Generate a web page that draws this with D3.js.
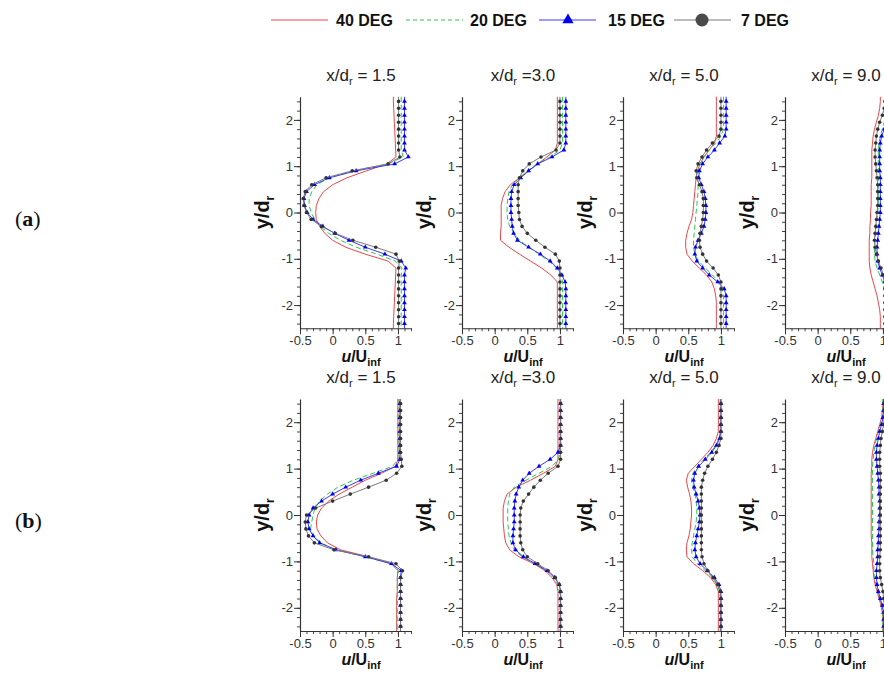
<!DOCTYPE html>
<html>
<head>
<meta charset="utf-8">
<script src="https://cdn.jsdelivr.net/npm/d3@7"></script>
<style>
  body { margin: 0; background: #fff; }
  svg { display: block; font-family: Arial, "Liberation Sans", sans-serif; }
</style>
</head>
<body>
<svg id="chart" width="884" height="673"></svg>
<script>
// y/d_r stations shared by every profile (top to bottom)
const yGrid = [2.4, 2.25, 2.1, 1.95, 1.8, 1.65, 1.5, 1.35, 1.2, 1.05, 0.9, 0.75, 0.6, 0.45, 0.3, 0.15, 0,
  -0.15, -0.3, -0.45, -0.6, -0.75, -0.9, -1.05, -1.2, -1.35, -1.5, -1.65, -1.8, -1.95, -2.1, -2.25, -2.4];

const stations = ["= 1.5", "=3.0", "= 5.0", "= 9.0"];
const rowLabels = ["a", "b"];

// row (a): u/U_inf per station (x/d_r = 1.5, 3.0, 5.0, 9.0)
const a40 = [
  [0.93,0.935,0.94,0.945,0.95,0.955,0.96,0.965,0.97,0.83,0.52,0.22,0.0,-0.14,-0.21,-0.25,-0.26,-0.25,-0.2,-0.12,0.0,0.2,0.5,0.85,0.97,0.965,0.96,0.955,0.95,0.945,0.94,0.935,0.93],
  [0.96,0.96,0.96,0.96,0.96,0.96,0.96,0.93,0.8,0.66,0.52,0.38,0.24,0.16,0.12,0.1,0.1,0.1,0.1,0.09,0.09,0.22,0.38,0.55,0.72,0.86,0.96,0.96,0.96,0.96,0.96,0.96,0.96],
  [0.93,0.93,0.93,0.93,0.93,0.93,0.9,0.82,0.74,0.68,0.64,0.62,0.61,0.6,0.59,0.58,0.57,0.55,0.51,0.48,0.46,0.46,0.48,0.56,0.67,0.78,0.86,0.9,0.92,0.93,0.93,0.93,0.93],
  [0.96,0.95,0.93,0.9,0.87,0.85,0.84,0.83,0.83,0.83,0.83,0.83,0.82,0.82,0.82,0.82,0.81,0.81,0.8,0.8,0.79,0.79,0.79,0.79,0.8,0.82,0.85,0.88,0.91,0.93,0.95,0.96,0.96]
];
const a20 = [
  [1.05,1.05,1.05,1.05,1.05,1.05,1.05,1.05,1.08,0.85,0.32,-0.05,-0.24,-0.32,-0.36,-0.36,-0.33,-0.27,-0.19,-0.06,0.12,0.36,0.68,0.96,1.06,1.05,1.05,1.05,1.05,1.05,1.05,1.05,1.05],
  [1.04,1.04,1.04,1.04,1.04,1.04,1.04,1.0,0.85,0.65,0.5,0.38,0.27,0.22,0.2,0.19,0.19,0.2,0.23,0.3,0.38,0.52,0.68,0.83,0.95,1.02,1.04,1.04,1.04,1.04,1.04,1.04,1.04],
  [1.04,1.04,1.04,1.04,1.04,1.0,0.92,0.82,0.74,0.68,0.65,0.64,0.65,0.65,0.64,0.63,0.62,0.61,0.6,0.59,0.58,0.58,0.6,0.66,0.76,0.87,0.97,1.02,1.04,1.04,1.04,1.04,1.04],
  [1.05,1.05,1.04,1.02,0.99,0.96,0.94,0.93,0.93,0.93,0.93,0.93,0.93,0.93,0.93,0.93,0.92,0.91,0.9,0.89,0.88,0.87,0.87,0.88,0.91,0.95,0.99,1.02,1.04,1.05,1.05,1.05,1.05]
];
const a15 = [
  [1.1,1.1,1.1,1.1,1.1,1.1,1.1,1.1,1.16,0.95,0.36,-0.05,-0.28,-0.4,-0.44,-0.43,-0.39,-0.3,-0.15,0.03,0.25,0.5,0.8,1.05,1.12,1.1,1.1,1.1,1.1,1.1,1.1,1.1,1.1],
  [1.09,1.09,1.09,1.09,1.09,1.09,1.09,1.06,0.88,0.66,0.52,0.4,0.3,0.26,0.25,0.25,0.25,0.26,0.27,0.29,0.35,0.52,0.7,0.85,0.96,1.03,1.08,1.09,1.09,1.09,1.09,1.09,1.09],
  [1.08,1.08,1.08,1.08,1.08,1.06,0.98,0.9,0.8,0.72,0.67,0.66,0.7,0.74,0.76,0.77,0.77,0.76,0.74,0.7,0.65,0.61,0.6,0.63,0.72,0.82,0.95,1.05,1.08,1.08,1.08,1.08,1.08],
  [1.08,1.08,1.07,1.05,1.02,0.98,0.96,0.95,0.95,0.95,0.95,0.96,0.96,0.96,0.96,0.96,0.96,0.95,0.94,0.93,0.92,0.91,0.91,0.92,0.95,0.99,1.03,1.06,1.08,1.08,1.08,1.08,1.08]
];
const a7 = [
  [1.01,1.01,1.01,1.01,1.01,1.01,1.01,1.01,1.03,0.85,0.3,-0.1,-0.32,-0.42,-0.45,-0.44,-0.4,-0.33,-0.17,0.04,0.31,0.66,0.97,1.02,1.01,1.01,1.01,1.01,1.01,1.01,1.01,1.01,1.01],
  [1.0,1.0,1.0,1.0,1.0,1.0,1.0,0.94,0.71,0.53,0.43,0.38,0.36,0.36,0.36,0.36,0.37,0.38,0.42,0.5,0.63,0.77,0.93,0.99,1.0,1.0,1.0,1.0,1.0,1.0,1.0,1.0,1.0],
  [1.0,1.0,1.0,1.0,1.0,0.97,0.87,0.78,0.71,0.65,0.62,0.63,0.67,0.71,0.73,0.73,0.73,0.72,0.7,0.68,0.67,0.68,0.72,0.78,0.88,0.96,1.0,1.0,1.0,1.0,1.0,1.0,1.0],
  [1.03,1.02,0.99,0.95,0.92,0.9,0.89,0.88,0.88,0.89,0.9,0.91,0.92,0.92,0.92,0.92,0.91,0.9,0.89,0.88,0.87,0.88,0.9,0.93,0.97,1.01,1.03,1.03,1.03,1.03,1.03,1.03,1.03]
];

// row (b)
const b40 = [
  [1.0,1.0,1.0,1.0,1.0,1.0,1.0,1.0,1.0,0.96,0.75,0.5,0.3,0.1,-0.06,-0.17,-0.23,-0.25,-0.24,-0.18,-0.08,0.12,0.55,0.9,1.0,0.99,0.99,0.99,0.98,0.98,0.98,0.98,0.98],
  [0.97,0.97,0.97,0.97,0.97,0.97,0.97,0.97,0.97,0.93,0.75,0.55,0.33,0.19,0.15,0.13,0.13,0.13,0.14,0.15,0.17,0.23,0.37,0.6,0.77,0.88,0.95,0.97,0.97,0.97,0.97,0.97,0.97],
  [0.96,0.96,0.96,0.96,0.96,0.93,0.88,0.8,0.7,0.6,0.5,0.47,0.49,0.52,0.54,0.55,0.55,0.54,0.53,0.51,0.48,0.47,0.48,0.58,0.72,0.84,0.92,0.96,0.96,0.96,0.96,0.96,0.96],
  [1.0,0.99,0.98,0.95,0.92,0.89,0.86,0.84,0.83,0.83,0.82,0.82,0.82,0.82,0.82,0.82,0.82,0.82,0.82,0.82,0.83,0.83,0.83,0.84,0.85,0.86,0.88,0.91,0.94,0.97,0.99,1.0,1.0]
];
const b20 = [
  [1.0,1.0,1.0,1.0,1.0,1.0,1.0,1.0,1.0,0.92,0.62,0.32,0.08,-0.08,-0.2,-0.27,-0.3,-0.32,-0.34,-0.3,-0.18,0.05,0.5,0.9,1.01,0.99,0.99,0.99,0.99,0.99,0.99,0.99,0.99],
  [1.0,1.0,1.0,1.0,1.0,1.0,1.0,1.0,0.98,0.88,0.68,0.48,0.3,0.23,0.21,0.2,0.2,0.2,0.21,0.22,0.25,0.3,0.42,0.62,0.8,0.91,0.97,0.99,1.0,1.0,1.0,1.0,1.0],
  [0.99,0.99,0.99,0.99,0.99,0.97,0.92,0.84,0.74,0.64,0.57,0.55,0.57,0.6,0.62,0.63,0.63,0.62,0.6,0.58,0.56,0.55,0.56,0.64,0.76,0.87,0.94,0.98,0.99,0.99,0.99,0.99,0.99],
  [1.0,1.0,0.99,0.96,0.93,0.9,0.88,0.86,0.85,0.84,0.84,0.84,0.84,0.84,0.84,0.84,0.84,0.84,0.84,0.84,0.84,0.84,0.85,0.86,0.86,0.87,0.89,0.92,0.95,0.98,1.0,1.0,1.0]
];
const b15 = [
  [1.03,1.03,1.03,1.03,1.03,1.03,1.03,1.03,1.03,0.98,0.7,0.43,0.2,0.0,-0.17,-0.3,-0.36,-0.38,-0.36,-0.3,-0.2,0.05,0.5,0.9,1.05,1.04,1.04,1.04,1.04,1.04,1.04,1.04,1.04],
  [1.01,1.01,1.01,1.01,1.01,1.01,1.01,0.97,0.85,0.68,0.53,0.43,0.37,0.33,0.31,0.3,0.3,0.3,0.29,0.28,0.28,0.32,0.44,0.62,0.8,0.92,0.99,1.01,1.01,1.01,1.01,1.01,1.01],
  [1.0,1.0,1.0,1.0,1.0,0.98,0.93,0.86,0.76,0.66,0.6,0.58,0.59,0.62,0.65,0.67,0.68,0.67,0.65,0.63,0.61,0.6,0.62,0.68,0.79,0.9,0.97,1.0,1.0,1.0,1.0,1.0,1.0],
  [1.01,1.01,1.0,0.98,0.95,0.93,0.91,0.9,0.9,0.91,0.92,0.93,0.94,0.94,0.95,0.95,0.95,0.94,0.94,0.93,0.93,0.92,0.92,0.91,0.9,0.9,0.91,0.93,0.96,0.99,1.01,1.01,1.01]
];
const b7 = [
  [1.04,1.04,1.04,1.04,1.04,1.04,1.04,1.04,1.05,1.06,0.98,0.82,0.55,0.27,0.0,-0.26,-0.4,-0.42,-0.41,-0.37,-0.28,0.02,0.55,0.97,1.07,1.04,1.04,1.04,1.04,1.04,1.04,1.04,1.04],
  [1.01,1.01,1.01,1.01,1.01,1.01,1.01,1.01,1.01,0.97,0.82,0.7,0.6,0.52,0.44,0.4,0.39,0.39,0.39,0.39,0.4,0.43,0.5,0.66,0.82,0.93,0.99,1.01,1.01,1.01,1.01,1.01,1.01],
  [1.0,1.0,1.0,1.0,1.0,1.0,0.97,0.93,0.87,0.8,0.75,0.72,0.7,0.7,0.7,0.7,0.7,0.7,0.7,0.7,0.7,0.7,0.71,0.74,0.8,0.88,0.95,0.99,1.0,1.0,1.0,1.0,1.0],
  [1.02,1.02,1.02,1.01,0.99,0.97,0.96,0.95,0.95,0.95,0.96,0.96,0.96,0.96,0.96,0.96,0.96,0.96,0.96,0.96,0.96,0.96,0.95,0.95,0.95,0.96,0.98,1.0,1.01,1.02,1.02,1.02,1.02]
];

// series look (legend order)
const series = [
  { name: "40 DEG", color: "#e8474c", dash: null, marker: null, rows: [a40, b40] },
  { name: "20 DEG", color: "#2ec54a", dash: "5,3", marker: null, rows: [a20, b20] },
  { name: "15 DEG", color: "#3a3aff", dash: null, marker: "tri", rows: [a15, b15] },
  { name: "7 DEG", color: "#7a7a7a", dash: null, marker: "dot", rows: [a7, b7] }
];

const svg = d3.select("#chart");

// panel geometry
const panelLeft = [300, 462, 623, 785];
const panelW = 111;
const rowTop = [96.75, 399];
const rowBottom = [328.25, 631];

// legend
const legendItems = [
  { lx: 271, tx: 336 },
  { lx: 406, tx: 470 },
  { lx: 539, tx: 608 },
  { lx: 674, tx: 741 }
];
const legend = svg.append("g").attr("id", "legend");
series.forEach((s, i) => {
  const it = legendItems[i];
  legend.append("line")
    .attr("x1", it.lx).attr("x2", it.lx + 57)
    .attr("y1", 20).attr("y2", 20)
    .attr("stroke", s.color).attr("stroke-width", 1.2)
    .attr("stroke-dasharray", s.dash ? "4,3" : null);
  if (s.marker === "tri") {
    legend.append("path")
      .attr("d", d3.symbol(d3.symbolTriangle).size(55)())
      .attr("transform", `translate(${it.lx + 29},20)`)
      .attr("fill", "#0000ee");
  } else if (s.marker === "dot") {
    legend.append("circle")
      .attr("cx", it.lx + 28).attr("cy", 20).attr("r", 6.5)
      .attr("fill", "#4a4a4a");
  }
  legend.append("text")
    .attr("x", it.tx).attr("y", 26)
    .attr("font-size", "16px").attr("font-weight", "bold").attr("fill", "#111")
    .text(s.name);
});

// row labels (a), (b)
rowLabels.forEach((lab, r) => {
  const t = svg.append("text")
    .attr("x", 15).attr("y", (rowTop[r] + rowBottom[r]) / 2 + 13)
    .attr("font-family", "'Liberation Serif', 'DejaVu Serif', serif")
    .attr("font-size", "22px").attr("fill", "#111");
  t.append("tspan").text("(");
  t.append("tspan").attr("font-weight", "bold").text(lab);
  t.append("tspan").text(")");
});

// panels
for (let r = 0; r < 2; r++) {
  for (let p = 0; p < 4; p++) {
    const x0 = panelLeft[p];
    const x = d3.scaleLinear().domain([-0.5, 1.2]).range([x0, x0 + panelW]);
    const y = d3.scaleLinear().domain([-2.5, 2.5]).range([rowBottom[r], rowTop[r]]);
    const g = svg.append("g").attr("class", "panel");

    // minor ticks
    g.append("g")
      .attr("transform", `translate(0,${rowBottom[r]})`)
      .call(d3.axisBottom(x).tickValues(d3.range(-0.5, 1.201, 0.1)).tickSize(3).tickSizeOuter(0).tickFormat(""))
      .call((a) => a.select(".domain").remove())
      .call((a) => a.selectAll("line").attr("stroke", "#444"));
    g.append("g")
      .attr("transform", `translate(${x0},0)`)
      .call(d3.axisLeft(y).tickValues(d3.range(-2.4, 2.41, 0.2)).tickSize(3).tickSizeOuter(0).tickFormat(""))
      .call((a) => a.select(".domain").remove())
      .call((a) => a.selectAll("line").attr("stroke", "#444"));

    // major axes
    const xAxis = g.append("g")
      .attr("transform", `translate(0,${rowBottom[r]})`)
      .call(d3.axisBottom(x).tickValues([-0.5, 0, 0.5, 1]).tickSize(6).tickSizeOuter(0).tickFormat((d) => String(d)));
    const yAxis = g.append("g")
      .attr("transform", `translate(${x0},0)`)
      .call(d3.axisLeft(y).tickValues([-2, -1, 0, 1, 2]).tickSize(6).tickSizeOuter(0).tickFormat((d) => String(d)));
    [xAxis, yAxis].forEach((a) => {
      a.select(".domain").attr("stroke", "#333").attr("stroke-width", 1.2);
      a.selectAll("line").attr("stroke", "#333");
      a.selectAll("text").attr("font-size", "13px").attr("fill", "#333").attr("font-family", null);
    });
    xAxis.selectAll("text").attr("dy", "0.9em").attr("y", 5);
    yAxis.selectAll("text").attr("x", -7);

    // profiles
    series.forEach((s) => {
      const vals = s.rows[r][p];
      const pts = yGrid.map((yy, i) => ({ y: yy, u: vals[i] }));
      const linePts = [{ y: 2.5, u: vals[0] }, ...pts, { y: -2.5, u: vals[vals.length - 1] }];
      g.append("path")
        .datum(linePts)
        .attr("fill", "none")
        .attr("stroke", s.color)
        .attr("stroke-width", 1)
        .attr("stroke-dasharray", s.dash)
        .attr("d", d3.line().x((d) => x(d.u)).y((d) => y(d.y)));
      if (s.marker === "tri") {
        g.selectAll(null).data(pts).join("path")
          .attr("d", d3.symbol(d3.symbolTriangle).size(10)())
          .attr("transform", (d) => `translate(${x(d.u)},${y(d.y)})`)
          .attr("fill", "#0000ee");
      } else if (s.marker === "dot") {
        g.selectAll(null).data(pts).join("circle")
          .attr("cx", (d) => x(d.u)).attr("cy", (d) => y(d.y)).attr("r", 1.8)
          .attr("fill", "#333");
      }
    });

    // title
    const cx = x0 + 61;
    const title = g.append("text")
      .attr("x", cx).attr("y", rowTop[r] - 16)
      .attr("text-anchor", "middle").attr("font-size", "17px").attr("fill", "#222");
    title.append("tspan").text("x/d");
    title.append("tspan").attr("font-size", "11px").attr("dy", 4).text("r");
    title.append("tspan").attr("dy", -4).text(" " + stations[p]);

    // x label
    const xl = g.append("text")
      .attr("x", cx).attr("y", rowBottom[r] + 34)
      .attr("text-anchor", "middle").attr("font-size", "16px").attr("font-weight", "bold").attr("fill", "#111");
    xl.append("tspan").attr("font-style", "italic").text("u");
    xl.append("tspan").text("/U");
    xl.append("tspan").attr("font-size", "11px").attr("dy", 4).text("inf");

    // y label
    const yl = g.append("text")
      .attr("transform", `translate(${x0 - 31},${(rowTop[r] + rowBottom[r]) / 2}) rotate(-90)`)
      .attr("text-anchor", "middle").attr("font-size", "20px").attr("font-weight", "bold").attr("fill", "#111");
    yl.append("tspan").text("y/d");
    yl.append("tspan").attr("font-size", "12px").attr("dy", 5).text("r");
  }
}
</script>
</body>
</html>
